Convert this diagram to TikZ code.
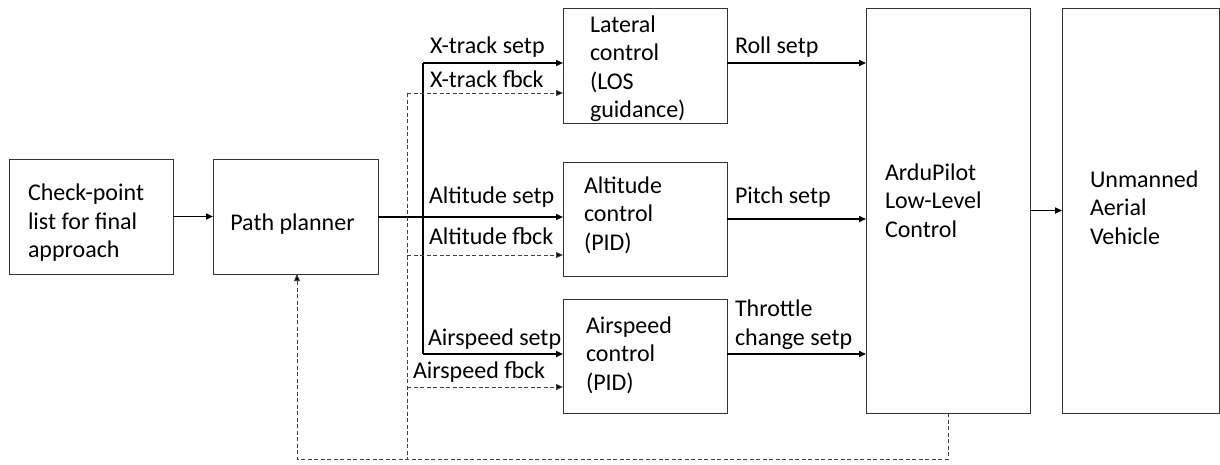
\documentclass[tikz,border=0pt]{standalone}
\usepackage{fontspec}
\setmainfont{Carlito}
\usetikzlibrary{arrows.meta}
\newcommand{\ml}[1]{\begin{tabular}[t]{@{}l@{}}#1\end{tabular}}
\begin{document}
\begin{tikzpicture}[x=1pt,y=-1pt,
  box/.style={draw=black!80,line width=1pt,inner sep=0pt,outer sep=0pt,rectangle},
  txt/.style={inner sep=0pt,outer sep=0pt,anchor=base west,font=\fontsize{24}{28.5}\selectfont},
  arr/.style={line width=1.6pt,-{Triangle[length=7pt,width=6pt]}},
  sln/.style={line width=1.6pt},
  dsh/.style={line width=0.9pt,draw=black!75,dash pattern=on 4pt off 2.5pt},
  darr/.style={dsh,-{Triangle[length=7pt,width=6pt,fill=black]}}]
\useasboundingbox (0,0) rectangle (1220,464);
% boxes
\node[box,minimum width=164pt,minimum height=115pt] (cp) at (91,216.5) {};
\node[box,minimum width=165pt,minimum height=115pt] (pp) at (295.5,216.5) {};
\node[box,minimum width=164pt,minimum height=115pt] (lat) at (645,65.5) {};
\node[box,minimum width=164pt,minimum height=114pt] (alt) at (645,219) {};
\node[box,minimum width=164pt,minimum height=114pt] (air) at (645,356) {};
\node[box,minimum width=164pt,minimum height=405pt] (ard) at (948,210.5) {};
\node[box,minimum width=157pt,minimum height=405pt] (uav) at (1140.5,210.5) {};
% box texts
\node[txt] (cpt) at (28,200.5) {\ml{Check-point\\list for final\\approach}};
\node[txt,anchor=base] (ppt) at (292.5,230) {Path planner};
\node[txt] (latt) at (590,32) {\ml{Lateral\\control\\(LOS\\guidance)}};
\node[txt] (altt) at (584,193) {\ml{Altitude\\control\\(PID)}};
\node[txt] (airt) at (586,333) {\ml{Airspeed\\control\\(PID)}};
\node[txt] (ardt) at (885,180) {\ml{ArduPilot\\Low-Level\\Control}};
\node[txt] (uavt) at (1090,187) {\ml{Unmanned\\Aerial\\Vehicle}};
% labels
\node[txt] (l1) at (430,53) {X-track setp};
\node[txt] (l2) at (430,87) {X-track fbck};
\node[txt] (l3) at (429,203) {Altitude setp};
\node[txt] (l4) at (429,244) {Altitude fbck};
\node[txt] (l5) at (428,345) {Airspeed setp};
\node[txt] (l6) at (413,378) {Airspeed fbck};
\node[txt] (l7) at (735,53) {Roll setp};
\node[txt] (l8) at (735,203) {Pitch setp};
\node[txt] (l9) at (735,316.5) {\ml{Throttle\\change setp}};
% coordinates
\coordinate (jt) at (423,63);
\coordinate (jb) at (423,354);
\coordinate (dv) at (407,93);
\coordinate (da) at (407,255);
\coordinate (ds) at (407,387);
\coordinate (fbc) at (297,459);
\coordinate (ro) at (727,63);
\coordinate (th) at (727,354);
% solid connectors
\draw[arr] (cp) -- (pp);
\draw[arr] (pp.east |- 0,217) -- (alt.west |- 0,217);
\draw[sln] (jt) -- (jb);
\draw[arr] (jt) -- (jt -| lat.west);
\draw[arr] (jb) -- (jb -| air.west);
\draw[arr] (ro) -- (ro -| ard.west);
\draw[arr] (alt.east) -- (alt.east -| ard.west);
\draw[arr] (th) -- (th -| ard.west);
\draw[arr] (ard) -- (uav);
% dashed feedback
\draw[darr] (ard.south) |- (fbc) -- (fbc |- pp.south);
\draw[dsh] (dv) -- (dv |- fbc);
\draw[darr] (dv) -- (dv -| lat.west);
\draw[darr] (da) -- (da -| alt.west);
\draw[darr] (ds) -- (ds -| air.west);
\end{tikzpicture}
\end{document}
